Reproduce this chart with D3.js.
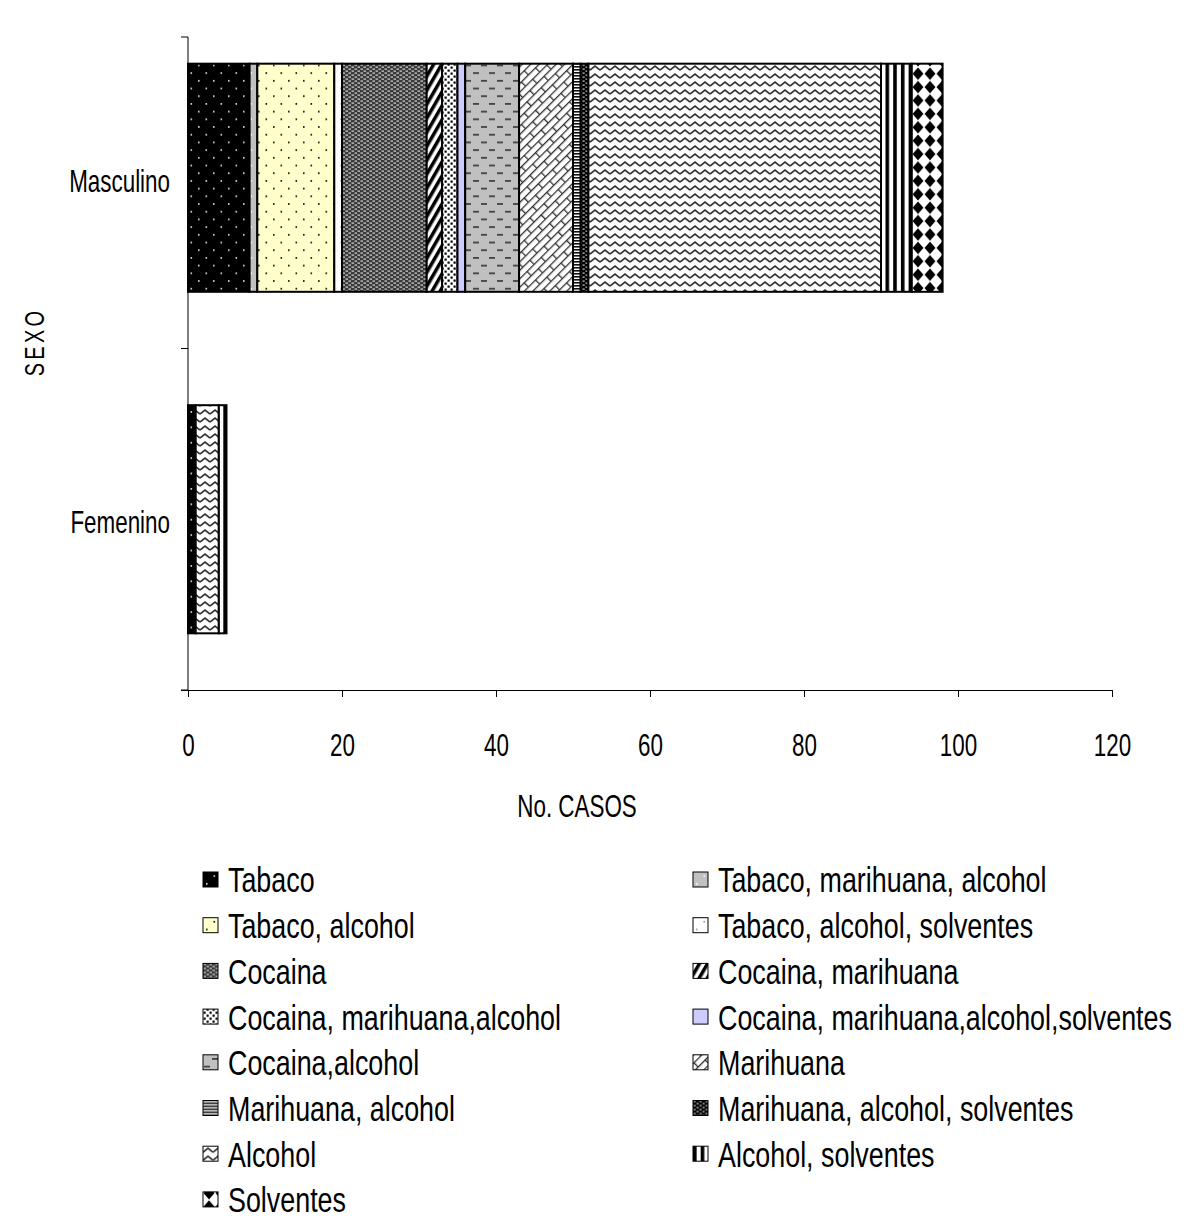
<!DOCTYPE html>
<html>
<head>
<meta charset="utf-8">
<script src="https://cdn.jsdelivr.net/npm/d3@7"></script>
<style>
  body { margin: 0; background: #fff; }
  svg text { font-family: "Liberation Sans", Arial, sans-serif; fill: #000; }
</style>
</head>
<body>
<svg id="chart" width="1194" height="1222"></svg>
<script>
// categories on the y axis, top to bottom
var categories = ['Masculino', 'Femenino'];

// series, in the order Excel stacks them and lists them in the legend
var seriesNames = [
    'Tabaco',
    'Tabaco, marihuana, alcohol',
    'Tabaco, alcohol',
    'Tabaco, alcohol, solventes',
    'Cocaina',
    'Cocaina, marihuana',
    'Cocaina, marihuana,alcohol',
    'Cocaina, marihuana,alcohol,solventes',
    'Cocaina,alcohol',
    'Marihuana',
    'Marihuana, alcohol',
    'Marihuana, alcohol, solventes',
    'Alcohol',
    'Alcohol, solventes',
    'Solventes'
];

// number of cases per series
var masculino = [8, 1, 10, 1, 11, 2, 2, 1, 7, 7, 1, 1, 38, 4, 4];
var femenino  = [1, 0, 0, 0, 0, 0, 0, 0, 0, 0, 0, 0, 3, 1, 0];

var xTicks = [0, 20, 40, 60, 80, 100, 120];

//The original uses a narrow face, so squeeze Liberation Sans sideways
var NARROW = 'scale(0.83,1.14)';

var svg = d3.select('#chart');
var defs = svg.append('defs');

//Helper to make a userSpace pattern tile
function tile(id, w, h, bg, transform) {
    var p = defs.append('pattern')
        .attr('id', id)
        .attr('patternUnits', 'userSpaceOnUse')
        .attr('width', w)
        .attr('height', h);
    if (transform) p.attr('patternTransform', transform);
    p.append('rect').attr('width', w).attr('height', h).attr('fill', bg);
    return p;
}
function dots(p, pts, size, color) {
    pts.forEach(function(d) {
        p.append('rect').attr('x', d[0]).attr('y', d[1])
            .attr('width', size[0]).attr('height', size[1]).attr('fill', color);
    });
}

// one fill per series
var p;
p = tile('pat0', 15, 15.4, '#000');                      // Tabaco
dots(p, [[3, 3], [10.5, 10.7]], [1.6, 1.6], '#e6e6e6');
p = tile('pat1', 15, 15.4, '#c0c0c0');                   // Tabaco, marihuana, alcohol
dots(p, [[3, 3], [10.5, 10.7]], [1.6, 1.6], '#fff');
p = tile('pat2', 15, 15.4, '#ffffcc');                   // Tabaco, alcohol
dots(p, [[3, 3], [10.5, 10.7]], [1.6, 1.6], '#000');
p = tile('pat3', 15, 15.4, '#fff');                      // Tabaco, alcohol, solventes
dots(p, [[3, 3], [10.5, 10.7]], [1.4, 1.4], '#777');
p = tile('pat4', 6, 4, '#3a3a3a');                       // Cocaina
dots(p, [[0.5, 0.5], [3.5, 2.5]], [2.5, 1.2], '#d8d8d8');
p = tile('pat5', 7, 7, '#fff', 'rotate(30)');            // Cocaina, marihuana
dots(p, [[0, 0]], [3.5, 7], '#000');
p = tile('pat6', 6, 6, '#fff');                          // Cocaina, marihuana,alcohol
dots(p, [[0.5, 0.5], [3.5, 3.5]], [2.2, 2.2], '#000');
tile('pat7', 4, 4, '#ccccff');                           // Cocaina, marihuana,alcohol,solventes
p = tile('pat8', 16, 15.4, '#c0c0c0');                   // Cocaina,alcohol
dots(p, [[1, 3], [9, 10.7]], [6, 1.6], '#333');
p = tile('pat9', 20, 12, '#fff', 'rotate(-45)');         // Marihuana
dots(p, [[0, 0], [0, 6]], [20, 1.3], '#333');
dots(p, [[0, 0], [10, 6]], [1.3, 6], '#333');
p = tile('pat10', 4, 3, '#fff');                         // Marihuana, alcohol
dots(p, [[0, 0]], [4, 1.6], '#111');
p = tile('pat11', 6, 4, '#000');                         // Marihuana, alcohol, solventes
dots(p, [[0.5, 0.5], [3.5, 2.5]], [2.2, 1.2], '#cfcfcf');
p = tile('pat12', 10, 8, '#fff');                        // Alcohol
p.append('polyline').attr('points', '0,6 5,2 10,6')
    .attr('fill', 'none').attr('stroke', '#333').attr('stroke-width', 1.7);
p = tile('pat13', 7.7, 8, '#fff');                       // Alcohol, solventes
dots(p, [[0, 0]], [3.6, 8], '#000');
p = tile('pat14', 12, 13.4, '#fff');                     // Solventes
p.append('polygon').attr('points', '6,0.5 11.5,6.7 6,12.9 0.5,6.7').attr('fill', '#000');

var fillOf = function(i) { return 'url(#pat' + i + ')'; };

//Scales
var x = d3.scaleLinear().domain([0, 120]).range([188, 1112]);
var y = d3.scaleBand().domain(categories).range([7, 690])
    .paddingInner(0.332).paddingOuter(0.166);

//Stack the series per category
var rows = categories.map(function(c, ci) {
    var r = { cat: c };
    var vals = ci === 0 ? masculino : femenino;
    seriesNames.forEach(function(s, i) { r[s] = vals[i]; });
    return r;
});
var stacked = d3.stack().keys(seriesNames)(rows);

var layers = svg.append('g').attr('class', 'bars')
    .selectAll('g')
    .data(stacked)
    .enter()
    .append('g')
    .attr('fill', function(d, i) { return fillOf(i); });

layers.selectAll('rect')
    .data(function(d) { return d.filter(function(v) { return v[1] - v[0] > 0; }); })
    .enter()
    .append('rect')
    .attr('x', function(d) { return x(d[0]); })
    .attr('y', function(d) { return y(d.data.cat); })
    .attr('width', function(d) { return x(d[1]) - x(d[0]); })
    .attr('height', y.bandwidth())
    .attr('stroke', '#000')
    .attr('stroke-width', 2);

//Axes (Excel style: thin lines, outside ticks)
var axisColor = '#000';
svg.append('line')
    .attr('x1', x(0)).attr('x2', x(0))
    .attr('y1', 37).attr('y2', 690)
    .attr('stroke', axisColor).attr('stroke-width', 1);
var yTickPos = [37, y('Femenino') - y.step() * y.paddingInner() / 2, 690];
svg.selectAll('.ytick')
    .data(yTickPos)
    .enter()
    .append('line')
    .attr('class', 'ytick')
    .attr('x1', x(0) - 7).attr('x2', x(0))
    .attr('y1', function(d) { return d; }).attr('y2', function(d) { return d; })
    .attr('stroke', axisColor);

var xAxis = d3.axisBottom(x).tickValues(xTicks).tickSizeOuter(0).tickSize(7);
var gx = svg.append('g')
    .attr('class', 'x axis')
    .attr('transform', 'translate(0,690)')
    .call(xAxis);
gx.select('.domain').attr('stroke', axisColor).attr('d', 'M' + (x(0) - 7) + ',0.5H' + x(120));
gx.selectAll('.tick line').attr('stroke', axisColor);
gx.selectAll('.tick text')
    .attr('y', 0)
    .attr('dy', '0.36em')
    .attr('transform', 'translate(0,55) ' + NARROW)
    .attr('font-size', 27)
    .attr('font-family', null)
    .attr('fill', '#000');

//Category labels
svg.selectAll('.catlabel')
    .data(categories)
    .enter()
    .append('g')
    .attr('class', 'catlabel')
    .attr('transform', function(d) { return 'translate(170,' + (y(d) + y.bandwidth() / 2 + 3) + ')'; })
    .append('text')
    .attr('transform', NARROW)
    .attr('dy', '0.36em')
    .attr('text-anchor', 'end')
    .attr('font-size', 27)
    .text(function(d) { return d; });

//Axis titles
svg.append('text')
    .attr('transform', 'translate(44,342) rotate(-90) ' + NARROW)
    .attr('text-anchor', 'middle')
    .attr('font-size', 24)
    .attr('letter-spacing', 4)
    .text('SEXO');

svg.append('text')
    .attr('transform', 'translate(577,806) ' + NARROW)
    .attr('dy', '0.36em')
    .attr('text-anchor', 'middle')
    .attr('font-size', 27)
    .text('No. CASOS');

//Legend: two columns, filled row by row
var legend = svg.append('g').attr('class', 'legend')
    .selectAll('g')
    .data(seriesNames)
    .enter()
    .append('g')
    .attr('transform', function(d, i) {
        var col = i % 2, row = Math.floor(i / 2);
        return 'translate(' + (col === 0 ? 203 : 693) + ',' + (880 + row * 45.7) + ')';
    });

legend.append('rect')
    .attr('x', 0).attr('y', -8)
    .attr('width', 15).attr('height', 15)
    .attr('fill', function(d, i) { return fillOf(i); })
    .attr('stroke', '#000')
    .attr('stroke-width', 1);

legend.append('text')
    .attr('transform', 'translate(25,0) scale(0.84,1.08)')
    .attr('dy', '0.36em')
    .attr('font-size', 32)
    .text(function(d) { return d; });
</script>
</body>
</html>
